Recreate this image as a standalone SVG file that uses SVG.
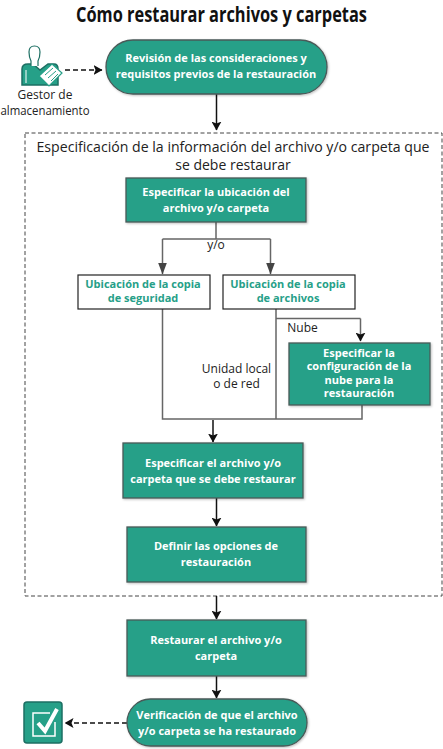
<svg xmlns="http://www.w3.org/2000/svg" width="443" height="749" viewBox="0 0 443 749">
<defs>
<filter id="sh" x="-5%" y="-5%" width="112%" height="115%"><feDropShadow dx="1" dy="1" stdDeviation="1" flood-color="#000" flood-opacity="0.25"/></filter>
<marker id="a" markerWidth="9" markerHeight="10" refX="8.5" refY="5" orient="auto" markerUnits="userSpaceOnUse"><path d="M0 0L9 5L0 10L2 5Z" fill="#111"/></marker>
<marker id="b" markerWidth="12" markerHeight="9" refX="11.500" refY="4.500" orient="auto" markerUnits="userSpaceOnUse"><path d="M0 0L12 4.500L0 9Z" fill="#444"/></marker>
</defs>
<style>
text{font-family:"Open Sans","Noto Sans","Liberation Sans",sans-serif;text-anchor:middle}
.t{font-size:22px;font-weight:700;fill:#111}
.w{font-size:11px;font-weight:700;fill:#fff}
.g{font-size:11px;font-weight:700;fill:#26a088}
.k{font-size:12px;fill:#222}
.h{font-size:14px;fill:#222}
.n{fill:#26a088;stroke:#4a5a58;stroke-width:1.3;filter:url(#sh)}
.b{fill:#fff;stroke:#222;stroke-width:1.2}
.c{fill:none;stroke:#666;stroke-width:1.5}
.d{fill:none;stroke:#111;stroke-width:1.5}
.e{fill:none;stroke:#111;stroke-width:1.5;stroke-dasharray:5 3}
</style>
<text class="t" x="221.500" y="22" textLength="291" lengthAdjust="spacingAndGlyphs">Cómo restaurar archivos y carpetas</text>
<rect id="frame" x="25" y="133" width="417" height="463" fill="none" stroke="#444" stroke-dasharray="4 2.5"/>
<text class="h" x="233" y="152" textLength="393" lengthAdjust="spacingAndGlyphs">Especificación de la información del archivo y/o carpeta que</text>
<text class="h" x="233" y="170">se debe restaurar</text>
<g id="connectors">
<path class="e" d="M65 70H102" marker-end="url(#a)"/>
<path class="d" d="M216.500 94V130" marker-end="url(#a)"/>
<path class="c" d="M216 222V239M162.500 239H270.500"/>
<path class="c" d="M162.500 239V274" marker-end="url(#b)"/>
<path class="c" d="M270.500 239V274" marker-end="url(#b)"/>
<path class="c" d="M162.500 309V419H362V405M276 309V419M276 318.500H360.500"/>
<path class="c" d="M360.500 318.500V341" marker-end="url(#a)"/>
<path class="d" d="M213 420V442" marker-end="url(#a)"/>
<path class="d" d="M216.500 498V526" marker-end="url(#a)"/>
<path class="d" d="M216.500 596V619" marker-end="url(#a)"/>
<path class="d" d="M216.500 676V698" marker-end="url(#a)"/>
<path class="e" d="M127 723H65" marker-end="url(#a)"/>
</g>
<text class="k" x="216" y="249">y/o</text>
<text class="k" x="302.500" y="332">Nube</text>
<text class="k" x="236.500" y="373">Unidad local</text>
<text class="k" x="236.500" y="388">o de red</text>
<g id="actor">
<path d="M22 85V69Q22 64 28 64H33L40 70L48 64H54Q58 64 58 69V85Z" fill="#26a088" stroke="#1d6f63" stroke-width="1.5"/>
<path d="M26 83V70" stroke="#fff" stroke-width="1"/>
<path d="M31 66V61Q29 57 29 52Q29 46 34.500 46Q40 46 40 52Q40 57 38 61V66" fill="#fff" stroke="#1d6f63" stroke-width="1.200"/>
<path d="M39 76L52 64L62 73L49 86Z" fill="#fff" stroke="#26a088" stroke-width="1.200"/>
<path d="M45 75L53 68M48 78L56 71M51 81L58 74" stroke="#26a088"/>
<text class="k" x="45" y="99">Gestor de</text>
<text class="k" x="45" y="115" textLength="89" lengthAdjust="spacingAndGlyphs">almacenamiento</text>
</g>
<g id="n1"><rect class="n" x="106" y="40" width="221" height="54" rx="27"/>
<text class="w" x="216" y="62">Revisión de las consideraciones y</text>
<text class="w" x="216" y="78">requisitos previos de la restauración</text></g>
<g id="n2"><rect class="n" x="126" y="178" width="180" height="44"/>
<text class="w" x="216" y="196">Especificar la ubicación del</text>
<text class="w" x="216" y="212">archivo y/o carpeta</text></g>
<g id="n3"><rect class="b" x="78" y="275" width="132" height="34"/>
<text class="g" x="143" y="288">Ubicación de la copia</text>
<text class="g" x="143" y="302">de seguridad</text></g>
<g id="n4"><rect class="b" x="223" y="275" width="132" height="34"/>
<text class="g" x="288" y="288">Ubicación de la copia</text>
<text class="g" x="288" y="302">de archivos</text></g>
<g id="n5"><rect class="n" x="289" y="343" width="141" height="62"/>
<text class="w" x="359" y="357">Especificar la</text>
<text class="w" x="359" y="370">configuración de la</text>
<text class="w" x="359" y="384">nube para la</text>
<text class="w" x="359" y="397">restauración</text></g>
<g id="n6"><rect class="n" x="123" y="443" width="180" height="55"/>
<text class="w" x="213" y="467">Especificar el archivo y/o</text>
<text class="w" x="213" y="483">carpeta que se debe restaurar</text></g>
<g id="n7"><rect class="n" x="127" y="527" width="179" height="55"/>
<text class="w" x="216" y="550">Definir las opciones de</text>
<text class="w" x="216" y="566">restauración</text></g>
<g id="n8"><rect class="n" x="127" y="620" width="179" height="56"/>
<text class="w" x="216" y="644">Restaurar el archivo y/o</text>
<text class="w" x="216" y="660">carpeta</text></g>
<g id="n9"><rect class="n" x="127" y="699" width="180" height="47" rx="23.500"/>
<text class="w" x="217" y="719">Verificación de que el archivo</text>
<text class="w" x="217" y="735">y/o carpeta se ha restaurado</text></g>
<g id="check">
<rect x="24" y="702" width="38" height="41" rx="3" fill="#26a088" stroke="#1d6f63" stroke-width="1.500"/>
<path d="M50 713H33V736H55V722" fill="none" stroke="#fff" stroke-width="1.500"/>
<path d="M38 723L45 731L57 709" fill="none" stroke="#fff" stroke-width="4"/>
</g>
</svg>
